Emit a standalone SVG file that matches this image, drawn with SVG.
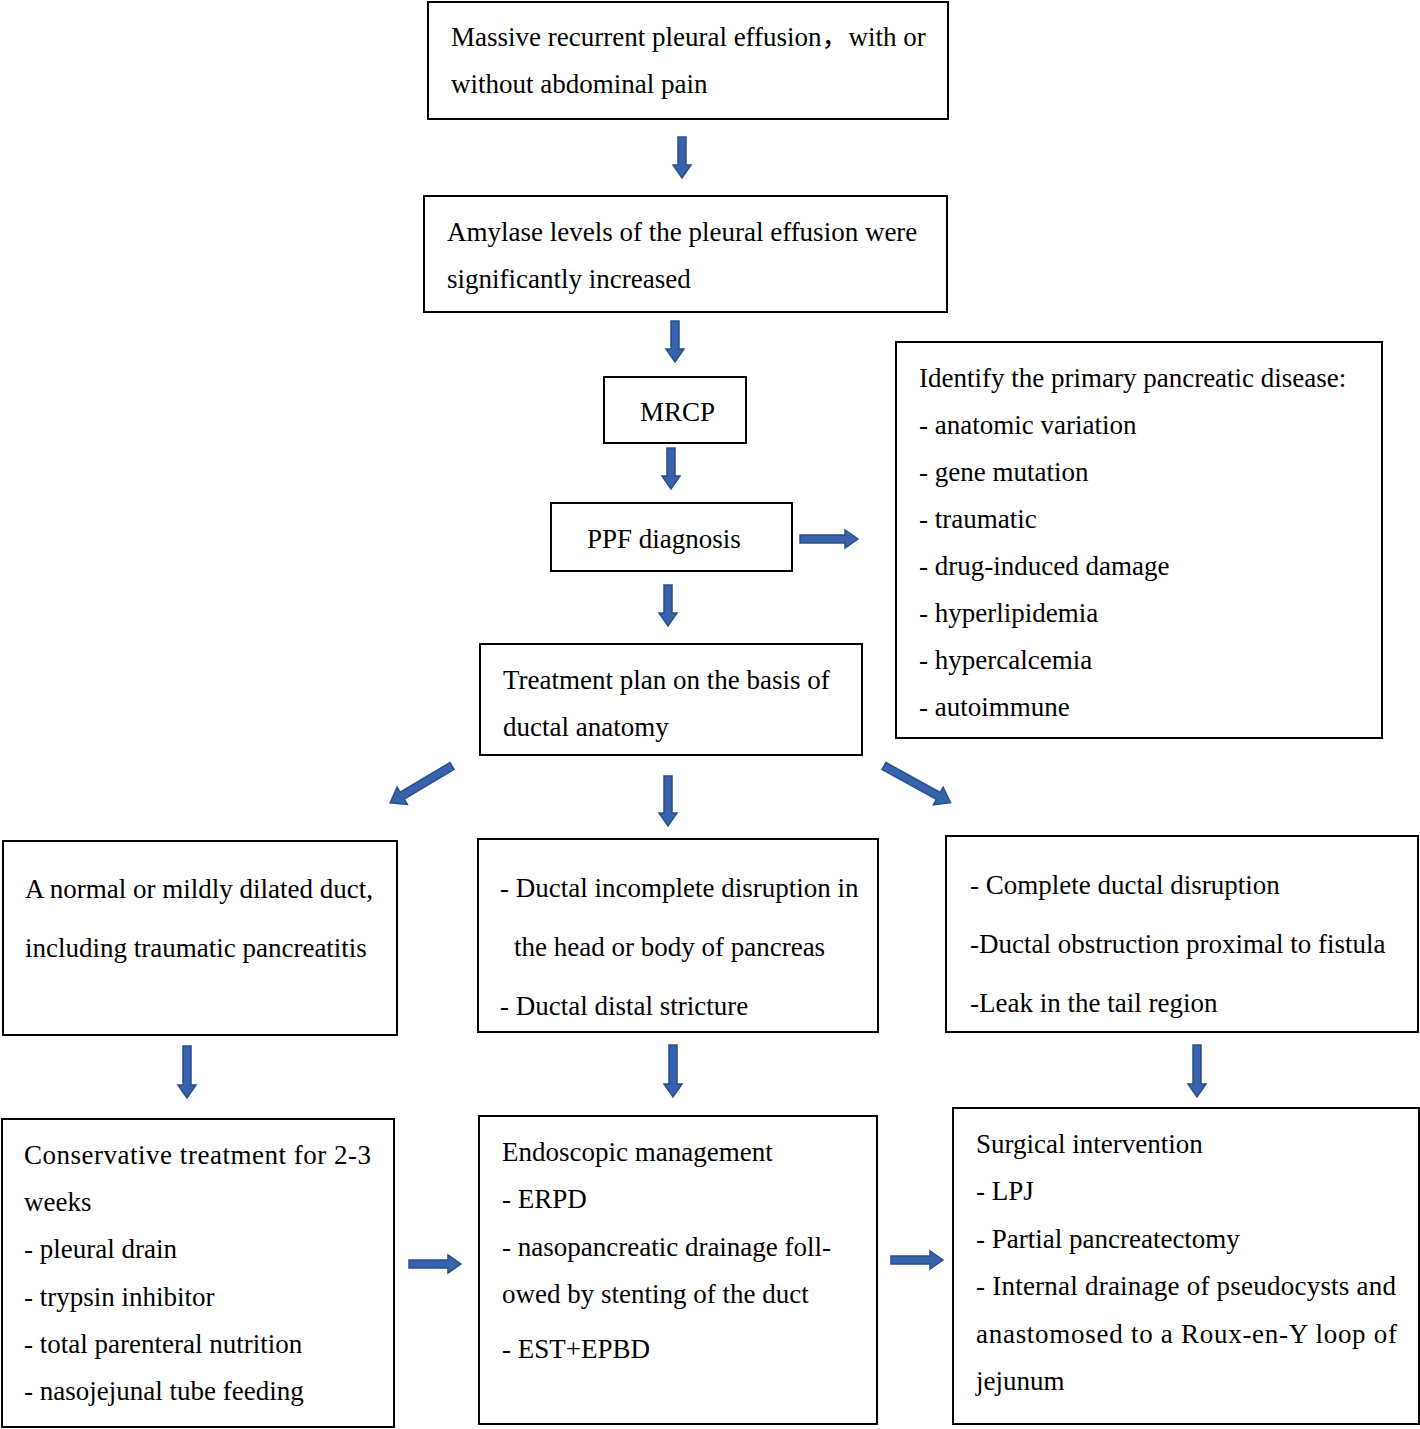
<svg xmlns="http://www.w3.org/2000/svg" width="1420" height="1429" viewBox="0 0 1420 1429">
<style>
.box{fill:#fff;stroke:#000;stroke-width:2}
text{font-family:"Liberation Serif","Noto Sans CJK SC",serif;font-size:27px;fill:#000}
.arr{fill:#3763ad;stroke:#2b4e8c;stroke-width:1.5;stroke-linejoin:miter}
</style>
<rect width="1420" height="1429" fill="#fff"/>
<g id="connectors">
<polygon class="arr" points="678,137 686,137 686,165 691,165 682,178 673,165 678,165"/>
<polygon class="arr" points="671,321 679,321 679,349 684,349 675,362 666,349 671,349"/>
<polygon class="arr" points="667,448 675,448 675,476 680,476 671,489 662,476 667,476"/>
<polygon class="arr" points="800,535 845,535 845,530 858,539 845,548 845,543 800,543"/>
<polygon class="arr" points="664,585 672,585 672,613 677,613 668,626 659,613 664,613"/>
<polygon class="arr" points="0,-4 58,-4 58,-10 72,0 58,10 58,4 0,4" transform="translate(452,766) rotate(149.2)"/>
<polygon class="arr" points="664,776 672,776 672,813 677,813 668,826 659,813 664,813"/>
<polygon class="arr" points="0,-4 62,-4 62,-10 76,0 62,10 62,4 0,4" transform="translate(884,766) rotate(28.9)"/>
<polygon class="arr" points="183,1046 191,1046 191,1085 196,1085 187,1098 178,1085 183,1085"/>
<polygon class="arr" points="669,1045 677,1045 677,1084 682,1084 673,1097 664,1084 669,1084"/>
<polygon class="arr" points="1193,1045 1201,1045 1201,1084 1206,1084 1197,1097 1188,1084 1193,1084"/>
<polygon class="arr" points="409,1260 448,1260 448,1255 461,1264 448,1273 448,1268 409,1268"/>
<polygon class="arr" points="891,1256 930,1256 930,1251 943,1260 930,1269 930,1264 891,1264"/>
</g>
<g id="n1"><rect class="box" x="428" y="2" width="520" height="117"/>
<text x="451" y="46">Massive recurrent pleural effusion，with or</text>
<text x="451" y="93">without abdominal pain</text></g>
<g id="n2"><rect class="box" x="424" y="196" width="523" height="116"/>
<text x="447" y="241">Amylase levels of the pleural effusion were</text>
<text x="447" y="288">significantly increased</text></g>
<g id="n3"><rect class="box" x="604" y="377" width="142" height="66"/>
<text x="640" y="421">MRCP</text></g>
<g id="n4"><rect class="box" x="551" y="503" width="241" height="68"/>
<text x="587" y="548">PPF diagnosis</text></g>
<g id="n5"><rect class="box" x="896" y="342" width="486" height="396"/>
<text x="919" y="387">Identify the primary pancreatic disease:</text>
<text x="919" y="434">- anatomic variation</text>
<text x="919" y="481">- gene mutation</text>
<text x="919" y="528">- traumatic</text>
<text x="919" y="575">- drug-induced damage</text>
<text x="919" y="622">- hyperlipidemia</text>
<text x="919" y="669">- hypercalcemia</text>
<text x="919" y="716">- autoimmune</text></g>
<g id="n6"><rect class="box" x="480" y="644" width="382" height="111"/>
<text x="503" y="689">Treatment plan on the basis of</text>
<text x="503" y="736">ductal anatomy</text></g>
<g id="n7"><rect class="box" x="3" y="841" width="394" height="194"/>
<text x="25" y="898">A normal or mildly dilated duct,</text>
<text x="25" y="957">including traumatic pancreatitis</text></g>
<g id="n8"><rect class="box" x="478" y="839" width="400" height="193"/>
<text x="500" y="897">- Ductal incomplete disruption in</text>
<text x="514" y="956">the head or body of pancreas</text>
<text x="500" y="1015">- Ductal distal stricture</text></g>
<g id="n9"><rect class="box" x="946" y="836" width="472" height="196"/>
<text x="970" y="894">- Complete ductal disruption</text>
<text x="970" y="953">-Ductal obstruction proximal to fistula</text>
<text x="970" y="1012">-Leak in the tail region</text></g>
<g id="n10"><rect class="box" x="2" y="1119" width="392" height="308"/>
<text x="24" y="1164" textLength="347" lengthAdjust="spacing">Conservative treatment for 2-3</text>
<text x="24" y="1211">weeks</text>
<text x="24" y="1258">- pleural drain</text>
<text x="24" y="1306">- trypsin inhibitor</text>
<text x="24" y="1353">- total parenteral nutrition</text>
<text x="24" y="1400">- nasojejunal tube feeding</text></g>
<g id="n11"><rect class="box" x="479" y="1116" width="398" height="308"/>
<text x="502" y="1161">Endoscopic management</text>
<text x="502" y="1208">- ERPD</text>
<text x="502" y="1256">- nasopancreatic drainage foll-</text>
<text x="502" y="1303">owed by stenting of the duct</text>
<text x="502" y="1358">- EST+EPBD</text></g>
<g id="n12"><rect class="box" x="953" y="1108" width="466" height="316"/>
<text x="976" y="1153">Surgical intervention</text>
<text x="976" y="1200">- LPJ</text>
<text x="976" y="1248">- Partial pancreatectomy</text>
<text x="976" y="1295" textLength="420" lengthAdjust="spacing">- Internal drainage of pseudocysts and</text>
<text x="976" y="1343" textLength="421" lengthAdjust="spacing">anastomosed to a Roux-en-Y loop of</text>
<text x="976" y="1390">jejunum</text></g>
</svg>
